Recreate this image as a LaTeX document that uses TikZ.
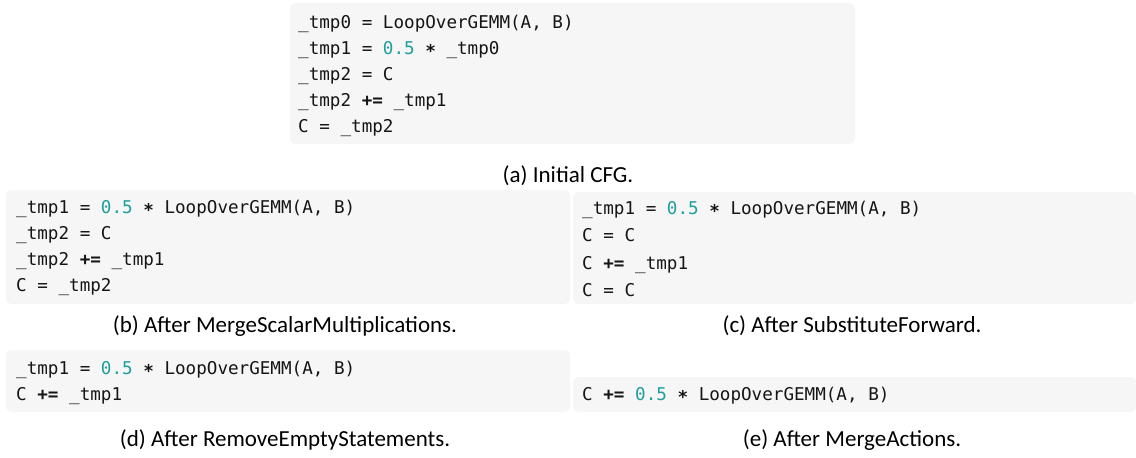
\documentclass[tikz,border=0pt]{standalone}
\usepackage{fontspec}
\setmainfont{Carlito}
\newfontfamily\codefontfam{DejaVu Sans Mono}
\definecolor{boxgray}{HTML}{F6F6F6}
\definecolor{codetext}{HTML}{151515}
\definecolor{numteal}{HTML}{1F9E9E}
\newcommand{\cnum}[1]{\textcolor{numteal}{#1}}
\newcommand{\cop}[1]{\textbf{#1}}
\newcommand{\cstar}{\raisebox{-0.22em}{\textbf{*}}}
\begin{document}
\begin{tikzpicture}[x=1pt,y=-1pt,
  codebox/.style={fill=boxgray, draw=none, rounded corners=5pt, anchor=north west, inner sep=0pt, outer sep=0pt},
  codeline/.style={anchor=base west, inner sep=0pt, text=codetext, font=\codefontfam\fontsize{17.6}{20}\selectfont},
  capline/.style={anchor=base, inner sep=0pt, text=black, font=\fontsize{23}{27}\selectfont}]
\path[use as bounding box] (0,0) rectangle (1136,458);
% (a)
\node[codebox, minimum width=565pt, minimum height=141pt] (boxa) at (290,3) {};
\node[codeline] (a1) at (298,28) {\_tmp0 = LoopOverGEMM(A, B)};
\node[codeline] (a2) at (298,54) {\_tmp1 = \cnum{0.5} \cstar{} \_tmp0};
\node[codeline] (a3) at (298,80) {\_tmp2 = C};
\node[codeline] (a4) at (298,106) {\_tmp2 \cop{+=} \_tmp1};
\node[codeline] (a5) at (298,132) {C = \_tmp2};
\node[capline] (capa) at (568,182) {(a) Initial CFG.};
% (b)
\node[codebox, minimum width=564pt, minimum height=114pt] (boxb) at (6,190) {};
\node[codeline] (b1) at (16,213) {\_tmp1 = \cnum{0.5} \cstar{} LoopOverGEMM(A, B)};
\node[codeline] (b2) at (16,239) {\_tmp2 = C};
\node[codeline] (b3) at (16,265) {\_tmp2 \cop{+=} \_tmp1};
\node[codeline] (b4) at (16,291) {C = \_tmp2};
\node[capline] (capb) at (285,332) {(b) After MergeScalarMultiplications.};
% (c)
\node[codebox, minimum width=563pt, minimum height=112pt] (boxc) at (573,192) {};
\node[codeline] (c1) at (582,214) {\_tmp1 = \cnum{0.5} \cstar{} LoopOverGEMM(A, B)};
\node[codeline] (c2) at (582,241.5) {C = C};
\node[codeline] (c3) at (582,269) {C \cop{+=} \_tmp1};
\node[codeline] (c4) at (582,296.5) {C = C};
\node[capline] (capc) at (852,332) {(c) After SubstituteForward.};
% (d)
\node[codebox, minimum width=564pt, minimum height=62pt] (boxd) at (6,350) {};
\node[codeline] (d1) at (16,374) {\_tmp1 = \cnum{0.5} \cstar{} LoopOverGEMM(A, B)};
\node[codeline] (d2) at (16,400) {C \cop{+=} \_tmp1};
\node[capline] (capd) at (285,446) {(d) After RemoveEmptyStatements.};
% (e)
\node[codebox, minimum width=563pt, minimum height=35pt] (boxe) at (573,377) {};
\node[codeline] (e1) at (582,400) {C \cop{+=} \cnum{0.5} \cstar{} LoopOverGEMM(A, B)};
\node[capline] (cape) at (852,446) {(e) After MergeActions.};
\end{tikzpicture}
\end{document}
